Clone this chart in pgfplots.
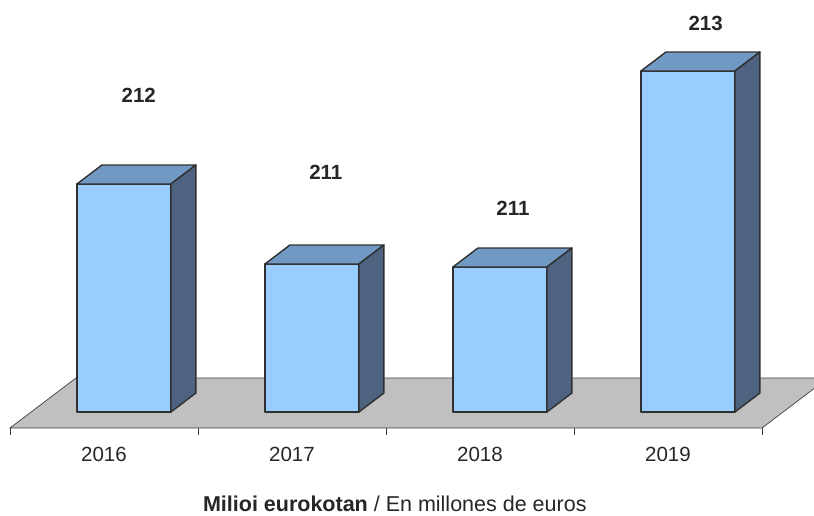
\documentclass[border=0pt]{standalone}
\usepackage{fontspec}
\setmainfont{Liberation Sans}
\usepackage{pgfplots}
\pgfplotsset{compat=1.18}
\definecolor{frontc}{HTML}{99CCFF}
\definecolor{topc}{HTML}{7099C4}
\definecolor{sidec}{HTML}{4D6380}
\definecolor{floorc}{HTML}{C0C0C0}
\definecolor{edgec}{HTML}{303030}
\begin{document}
\begin{tikzpicture}
\begin{axis}[
  at={(0,0)}, anchor=north west,
  scale only axis, width=814pt, height=428pt,
  xmin=-0.05319, xmax=4.27660,
  ymin=209.84, ymax=214.12,
  axis x line*=bottom, axis y line=none,
  x axis line style={draw=none},
  xtick={0,1,2,3,4}, xticklabels={2016,2017,2018,2019,},
  x tick label as interval,
  tick align=outside, major tick length=7pt,
  xtick style={draw=black!75, line width=0.8pt},
  x tick label style={font=\fontsize{20.5}{24}\selectfont, text=black!85, yshift=-9pt},
  /pgf/number format/assume math mode=true,
  xlabel={\textbf{Milioi eurokotan} / En millones de euros},
  xlabel style={at={(axis description cs:0.485,0)}, anchor=base, yshift=-83pt,
    font=\fontsize{21.5}{25}\selectfont, text=black!85},
  clip=false,
]
% floor
\addplot[fill=floorc, draw=black!75, line width=0.7pt] coordinates {(0,209.84) (4,209.84) (4.3511,210.34) (0.3511,210.34)} -- cycle;
% bar 2016
\addplot[fill=frontc, draw=edgec, line width=1.4pt, line join=round] coordinates {(0.356,210) (0.856,210) (0.856,212.28) (0.356,212.28)} -- cycle;
\addplot[fill=topc, draw=edgec, line width=1.4pt, line join=round] coordinates {(0.356,212.28) (0.856,212.28) (0.989,212.47) (0.489,212.47)} -- cycle;
\addplot[fill=sidec, draw=edgec, line width=1.4pt, line join=round] coordinates {(0.856,210) (0.989,210.19) (0.989,212.47) (0.856,212.28)} -- cycle;
% bar 2017
\addplot[fill=frontc, draw=edgec, line width=1.4pt, line join=round] coordinates {(1.356,210) (1.856,210) (1.856,211.48) (1.356,211.48)} -- cycle;
\addplot[fill=topc, draw=edgec, line width=1.4pt, line join=round] coordinates {(1.356,211.48) (1.856,211.48) (1.989,211.67) (1.489,211.67)} -- cycle;
\addplot[fill=sidec, draw=edgec, line width=1.4pt, line join=round] coordinates {(1.856,210) (1.989,210.19) (1.989,211.67) (1.856,211.48)} -- cycle;
% bar 2018
\addplot[fill=frontc, draw=edgec, line width=1.4pt, line join=round] coordinates {(2.356,210) (2.856,210) (2.856,211.45) (2.356,211.45)} -- cycle;
\addplot[fill=topc, draw=edgec, line width=1.4pt, line join=round] coordinates {(2.356,211.45) (2.856,211.45) (2.989,211.64) (2.489,211.64)} -- cycle;
\addplot[fill=sidec, draw=edgec, line width=1.4pt, line join=round] coordinates {(2.856,210) (2.989,210.19) (2.989,211.64) (2.856,211.45)} -- cycle;
% bar 2019
\addplot[fill=frontc, draw=edgec, line width=1.4pt, line join=round] coordinates {(3.356,210) (3.856,210) (3.856,213.41) (3.356,213.41)} -- cycle;
\addplot[fill=topc, draw=edgec, line width=1.4pt, line join=round] coordinates {(3.356,213.41) (3.856,213.41) (3.989,213.60) (3.489,213.60)} -- cycle;
\addplot[fill=sidec, draw=edgec, line width=1.4pt, line join=round] coordinates {(3.856,210) (3.989,210.19) (3.989,213.60) (3.856,213.41)} -- cycle;
% value labels
\addplot[draw=none, mark=none, point meta=explicit,
  nodes near coords={\pgfmathprintnumber[fixed,precision=0]{\pgfplotspointmeta}},
  every node near coord/.append style={anchor=center, font=\bfseries\fontsize{20.5}{24}\selectfont, text=black!85}]
  coordinates {(0.685,213.17) [212.28] (1.68,212.40) [211.48] (2.675,212.04) [211.45] (3.70,213.89) [213.41]};
\end{axis}
\pgfresetboundingbox
\path[use as bounding box] (0,0) rectangle (814pt,-515pt);
\end{tikzpicture}
\end{document}
